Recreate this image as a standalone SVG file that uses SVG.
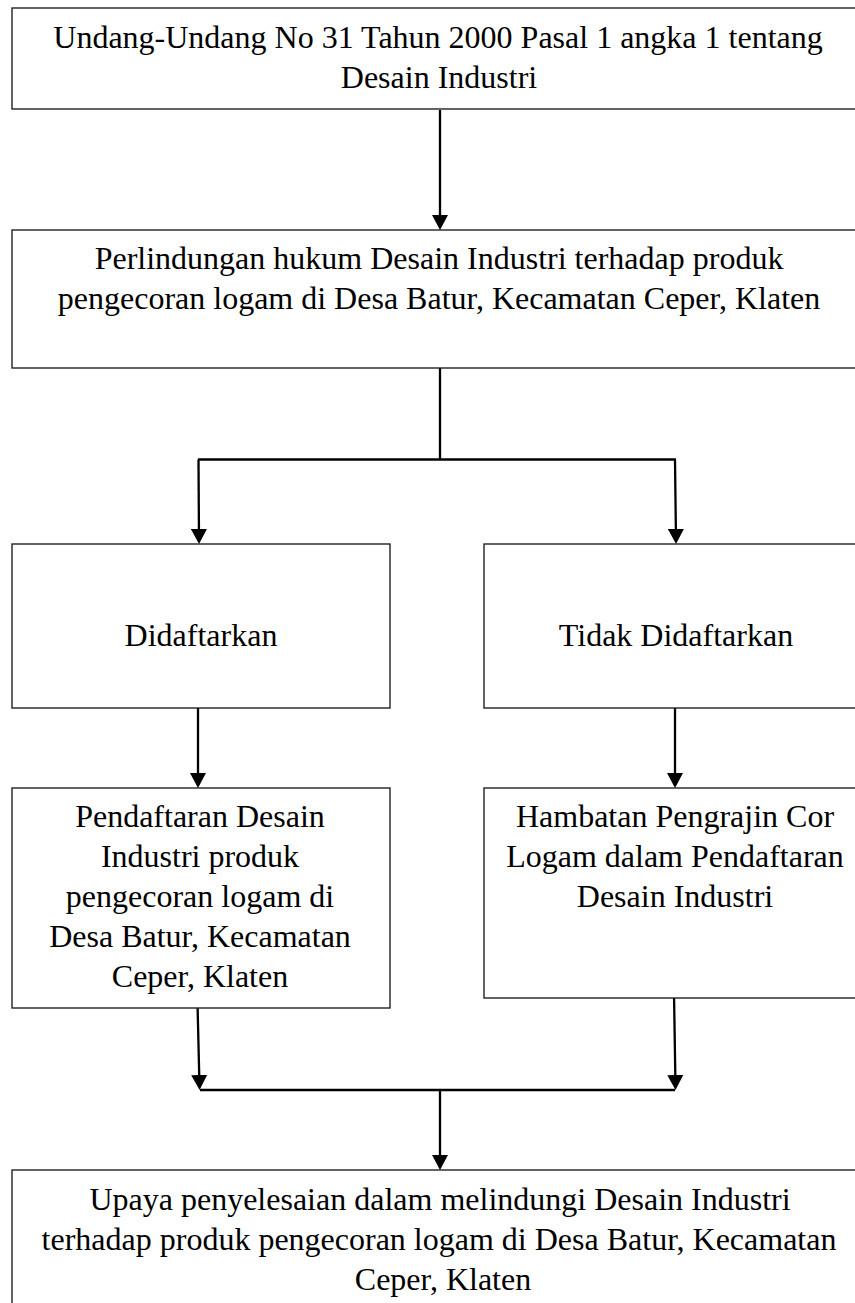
<svg xmlns="http://www.w3.org/2000/svg" width="855" height="1303" viewBox="0 0 855 1303">
  <style>
    .box { fill: #ffffff; stroke: #222222; stroke-width: 1.4; }
    .t { font-family: "Liberation Serif", "Times New Roman", serif; font-size: 32px; fill: #000000; text-anchor: middle; }
    .c { fill: none; stroke: #000000; stroke-width: 2.3; }
    .a { fill: none; stroke: #000000; stroke-width: 2.3; marker-end: url(#arrow); }
  </style>
  <defs>
    <marker id="arrow" markerUnits="userSpaceOnUse" viewBox="0 0 15 16" markerWidth="15" markerHeight="16" refX="12" refY="8" orient="auto">
      <path d="M0,0 L15,8 L0,16 z" fill="#000000"/>
    </marker>
  </defs>
  <rect x="0" y="0" width="855" height="1303" fill="#ffffff"/>

  <g id="connectors">
    <path class="a" d="M440 110 V227"/>
    <path class="c" d="M440 368 V460"/>
    <path class="c" d="M198 459.5 H676"/>
    <path class="a" d="M198.5 459.5 L199 541"/>
    <path class="a" d="M675 459.5 L676 541"/>
    <path class="a" d="M198 706 V785"/>
    <path class="a" d="M675 706 V785"/>
    <path class="a" d="M197.5 1003 L199.5 1087"/>
    <path class="a" d="M674 993 L675.5 1087"/>
    <path class="c" d="M200 1090 H675"/>
    <path class="a" d="M440 1090 V1167"/>
  </g>

  <g id="node-uu">
    <rect class="box" x="12" y="8" width="856" height="101"/>
    <text class="t" x="438" y="48">Undang-Undang No 31 Tahun 2000 Pasal 1 angka 1 tentang</text>
    <text class="t" x="439" y="88">Desain Industri</text>
  </g>

  <g id="node-perlindungan">
    <rect class="box" x="12" y="230" width="856" height="138"/>
    <text class="t" x="439" y="269">Perlindungan hukum Desain Industri terhadap produk</text>
    <text class="t" x="439" y="309">pengecoran logam di Desa Batur, Kecamatan Ceper, Klaten</text>
  </g>

  <g id="node-didaftarkan">
    <rect class="box" x="12" y="544" width="378" height="164"/>
    <text class="t" x="201" y="646">Didaftarkan</text>
  </g>

  <g id="node-tidak">
    <rect class="box" x="484" y="544" width="384" height="164"/>
    <text class="t" x="676" y="646">Tidak Didaftarkan</text>
  </g>

  <g id="node-pendaftaran">
    <rect class="box" x="12" y="788" width="378" height="220"/>
    <text class="t" x="200" y="827">Pendaftaran Desain</text>
    <text class="t" x="200" y="867">Industri produk</text>
    <text class="t" x="200" y="907">pengecoran logam di</text>
    <text class="t" x="200" y="947">Desa Batur, Kecamatan</text>
    <text class="t" x="200" y="987">Ceper, Klaten</text>
  </g>

  <g id="node-hambatan">
    <rect class="box" x="484" y="788" width="384" height="210"/>
    <text class="t" x="675" y="827">Hambatan Pengrajin Cor</text>
    <text class="t" x="675" y="867">Logam dalam Pendaftaran</text>
    <text class="t" x="675" y="907">Desain Industri</text>
  </g>

  <g id="node-upaya">
    <rect class="box" x="12" y="1170" width="856" height="145"/>
    <text class="t" x="440" y="1210">Upaya penyelesaian dalam melindungi Desain Industri</text>
    <text class="t" x="439" y="1250">terhadap produk pengecoran logam di Desa Batur, Kecamatan</text>
    <text class="t" x="443" y="1290">Ceper, Klaten</text>
  </g>
</svg>
